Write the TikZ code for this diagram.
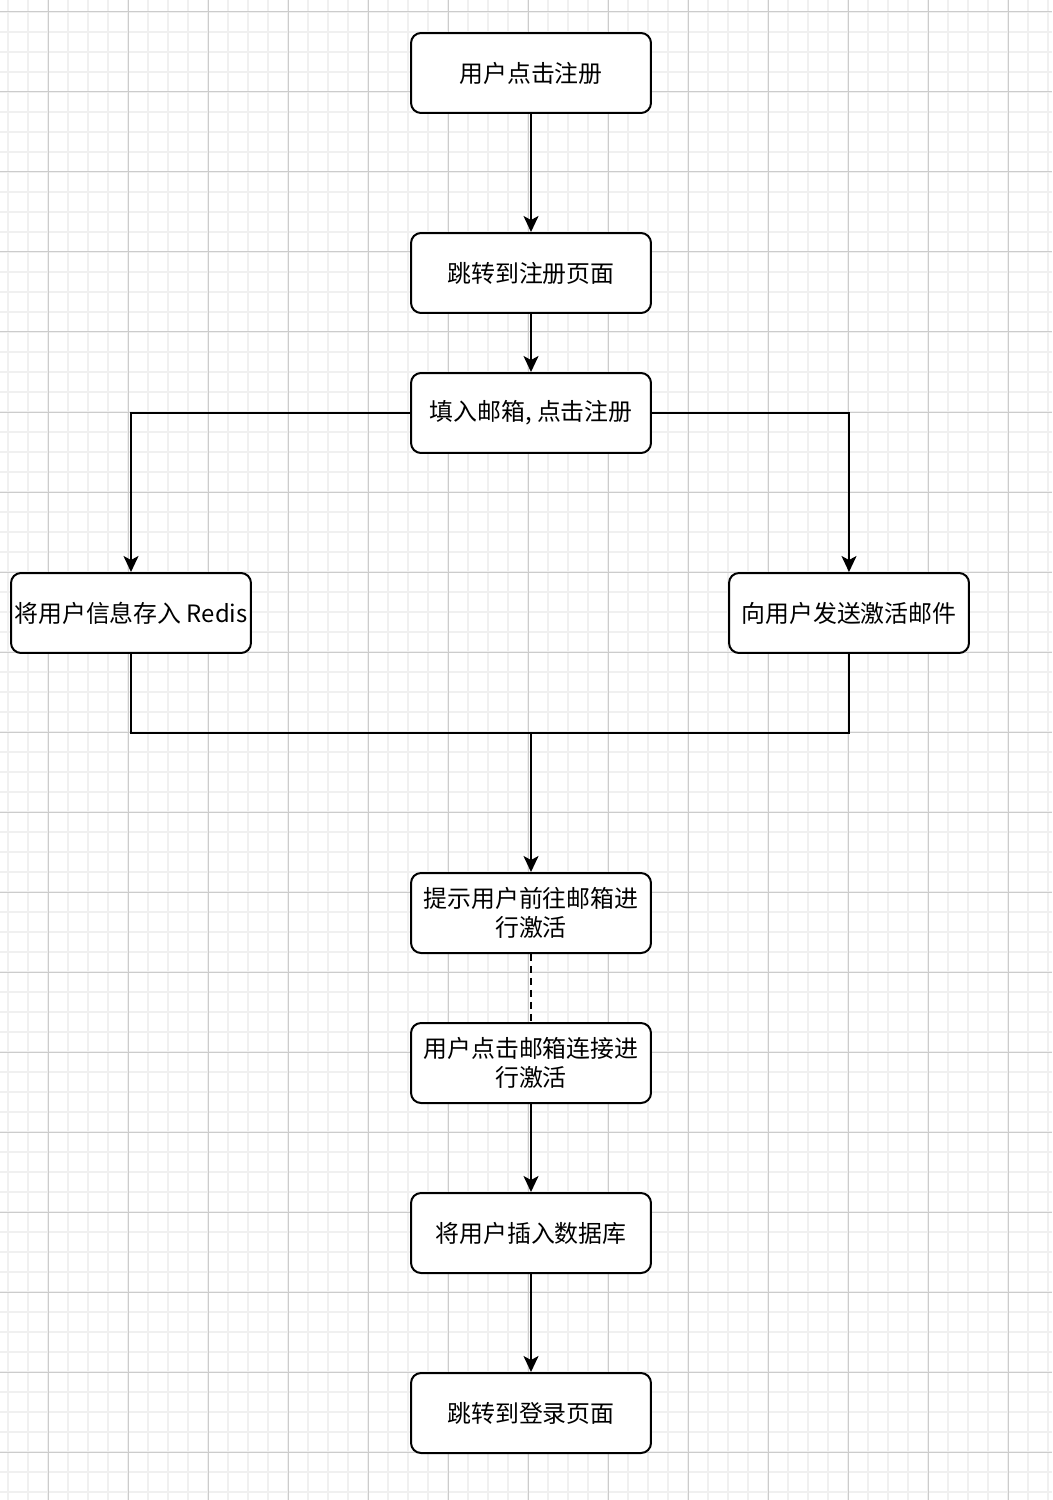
\documentclass[tikz,border=0pt]{standalone}
\usepackage{fontspec}
\newfontfamily\cjk{Noto Sans CJK SC}
\usetikzlibrary{arrows.meta, positioning}

\begin{document}
\begin{tikzpicture}[
    x=0.02cm, y=-0.02cm,
    step box/.style={draw, rounded corners=0.2cm, line width=0.04cm, fill=white,
        minimum width=4.8cm, minimum height=1.6cm, inner sep=0pt,
        align=center, font=\cjk\fontsize{13.6pt}{16.4pt}\selectfont},
    line/.style={line width=0.04cm},
    flow/.style={line, -{Stealth[length=0.32cm, width=0.3cm, inset=0.08cm]}},
    minor grid/.style={draw=black!6, line width=0.04cm},
    major grid/.style={draw=black!20, line width=0.02cm}
]

% ====================
% Sfondo a griglia
% ====================
\useasboundingbox (0,0) rectangle (1052,1500);
\fill[white] (0,0) rectangle (1052,1500);
\foreach \gx in {8,28,...,1052} \draw[minor grid] (\gx,0) -- (\gx,1500);
\foreach \gy in {12,32,...,1500} \draw[minor grid] (0,\gy) -- (1052,\gy);
\foreach \gx in {48,128,...,1052} \draw[major grid] (\gx,0) -- (\gx,1500);
\foreach \gy in {12,92,...,1500} \draw[major grid] (0,\gy) -- (1052,\gy);

% ====================
% Nodi
% ====================
\node[step box] (Click) at (531, 73) {用户点击注册};
\node[step box] (RegPage) at (531, 273) {跳转到注册页面};
\node[step box] (Fill) at (531, 413) {填入邮箱, 点击注册};

\node[step box] (Store) at (131, 613) {将用户信息存入 Redis};
\node[step box] (Mail) at (849, 613) {向用户发送激活邮件};

\node[step box] (Hint) at (531, 913) {提示用户前往邮箱进\\行激活};
\node[step box] (Activate) at (531, 1063) {用户点击邮箱连接进\\行激活};
\node[step box] (Insert) at (531, 1233) {将用户插入数据库};
\node[step box] (Login) at (531, 1413) {跳转到登录页面};

\coordinate (Join) at (531, 733);

% ====================
% Collegamenti
% ====================
\draw[flow] (Click) -- (RegPage);
\draw[flow] (RegPage) -- (Fill);

% Fill -> Store / Mail
\draw[flow] (Fill.west) -| (Store.north);
\draw[flow] (Fill.east) -| (Mail.north);

% Store / Mail -> Hint
\draw[line] (Store.south) |- (Join);
\draw[line] (Mail.south) |- (Join);
\draw[flow] (Join) -- (Hint);

\draw[line, dash pattern=on 0.14cm off 0.1cm] (Hint) -- (Activate);
\draw[flow] (Activate) -- (Insert);
\draw[flow] (Insert) -- (Login);

\end{tikzpicture}
\end{document}
